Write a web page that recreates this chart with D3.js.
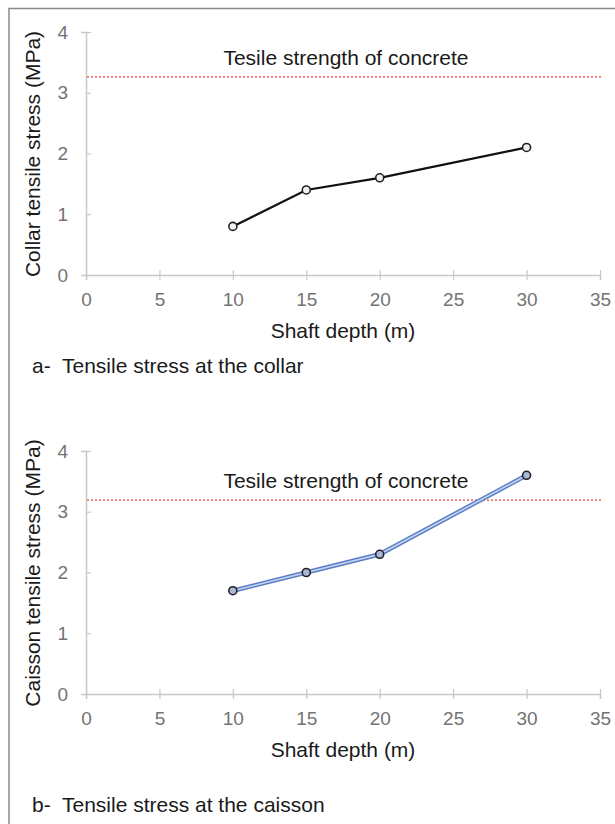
<!DOCTYPE html>
<html>
<head>
<meta charset="utf-8">
<script src="https://cdn.jsdelivr.net/npm/d3@7"></script>
<style>
  body { margin: 0; background: #fff; }
  svg { font-family: "Liberation Sans", Arial, sans-serif; }
</style>
</head>
<body>
<svg width="615" height="824"></svg>
<script>
// shaft depths and stresses
var depths = [10, 15, 20, 30];
var collarStress = [0.8, 1.4, 1.6, 2.1];
var caissonStress = [1.7, 2.0, 2.3, 3.6];
var strengthCollar = 3.26;
var strengthCaisson = 3.19;
var xTicks = [0, 5, 10, 15, 20, 25, 30, 35];
var yTicks = [0, 1, 2, 3, 4];

var svg = d3.select('svg');

// outer frame (top + left edges only visible)
svg.append('path')
    .attr('d', 'M9,824 V8.5 H615')
    .attr('fill', 'none')
    .attr('stroke', '#8a8a8a')
    .attr('stroke-width', 1.5);

var x = d3.scaleLinear().domain([0, 35]).range([86, 600]);

function drawPanel(top, values, strength, yTitle, caption, style) {
    var y = d3.scaleLinear().domain([0, 4]).range([top + 243, top]);
    var g = svg.append('g');

    // axes
    var xAxis = g.append('g')
        .attr('transform', 'translate(0,' + y(0) + ')')
        .call(d3.axisBottom(x).tickValues(xTicks).tickFormat(d3.format('d')).tickSize(5).tickPadding(13));
    xAxis.selectAll('.tick line').attr('y1', -5);
    var yAxis = g.append('g')
        .attr('transform', 'translate(' + x(0) + ',0)')
        .call(d3.axisLeft(y).tickValues(yTicks).tickFormat(d3.format('d')).tickSize(5).tickPadding(13));
    yAxis.selectAll('.tick line').attr('x2', 5);
    g.selectAll('.domain').attr('stroke', '#c8c8c8').attr('stroke-width', 1.5);
    g.selectAll('.tick line').attr('stroke', '#c8c8c8').attr('stroke-width', 1.2);
    g.selectAll('.tick text')
        .attr('fill', '#737373')
        .style('font-size', '19px')
        .style('font-family', '"Liberation Sans", Arial, sans-serif');

    // strength line
    g.append('line')
        .attr('x1', x(0) + 1).attr('x2', 601)
        .attr('y1', y(strength)).attr('y2', y(strength))
        .attr('stroke', '#f0393a')
        .attr('stroke-width', 1.3)
        .attr('stroke-dasharray', '2,2');
    g.append('text')
        .attr('x', 346).attr('y', y(strength) - 12)
        .attr('text-anchor', 'middle')
        .attr('fill', '#1a1a1a')
        .style('font-size', '21px')
        .text('Tesile strength of concrete');

    var pts = depths.map((d, i) => [x(d), y(values[i])]);
    var line = d3.line();
    if (style === 'blue') {
        g.append('path').attr('d', line(pts)).attr('fill', 'none')
            .attr('stroke', '#5b7fc6').attr('stroke-width', 4.5);
        g.append('path').attr('d', line(pts)).attr('fill', 'none')
            .attr('stroke', '#c6d5f0').attr('stroke-width', 1.6);
    } else {
        g.append('path').attr('d', line(pts)).attr('fill', 'none')
            .attr('stroke', '#111').attr('stroke-width', 2.2);
    }
    g.selectAll('circle.pt')
        .data(pts)
        .enter()
        .append('circle')
        .attr('cx', d => d[0])
        .attr('cy', d => d[1])
        .attr('r', 4)
        .attr('fill', style === 'blue' ? '#a9b8d6' : '#f2f2f2')
        .attr('stroke', '#222')
        .attr('stroke-width', 1.6);

    // titles
    g.append('text')
        .attr('x', 343).attr('y', y(0) + 63)
        .attr('text-anchor', 'middle')
        .attr('fill', '#1a1a1a')
        .style('font-size', '21px')
        .text('Shaft depth (m)');
    g.append('text')
        .attr('transform', 'translate(40,' + (top + 122) + ') rotate(-90)')
        .attr('text-anchor', 'middle')
        .attr('fill', '#1a1a1a')
        .style('font-size', '21px')
        .text(yTitle);
    g.append('text')
        .attr('x', 32).attr('y', caption.y)
        .attr('fill', '#1a1a1a')
        .style('font-size', '21px')
        .attr('xml:space', 'preserve')
        .text(caption.text);
}

drawPanel(32, collarStress, strengthCollar, 'Collar tensile stress (MPa)',
    {text: 'a-  Tensile stress at the collar', y: 373});
drawPanel(451, caissonStress, strengthCaisson, 'Caisson tensile stress (MPa)',
    {text: 'b-  Tensile stress at the caisson', y: 812}, 'blue');
</script>
</body>
</html>
